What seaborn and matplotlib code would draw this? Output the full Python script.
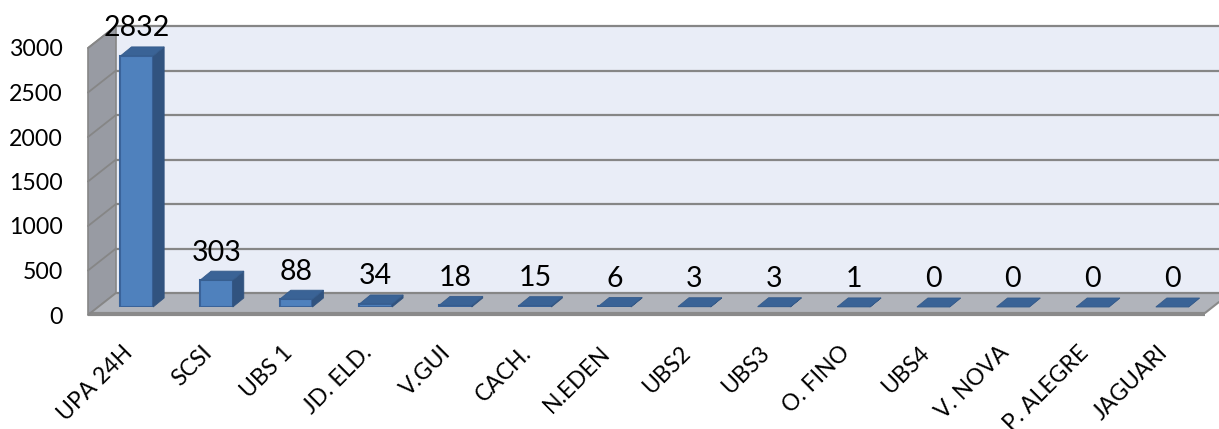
import pandas as pd
import matplotlib
matplotlib.use('Agg')
import matplotlib.pyplot as plt
from matplotlib.patches import Polygon
import seaborn as sns

# data
unidades = ['UPA 24H', 'SCSI', 'UBS 1', 'JD. ELD.', 'V.GUI', 'CACH.', 'N.EDEN',
            'UBS2', 'UBS3', 'O. FINO', 'UBS4', 'V. NOVA', 'P. ALEGRE', 'JAGUARI']
totais = [2832, 303, 88, 34, 18, 15, 6, 3, 3, 1, 0, 0, 0, 0]
y_ticks = [0, 500, 1000, 1500, 2000, 2500, 3000]

df = pd.DataFrame({'unidade': unidades, 'total': totais})

W, H = 1219, 429
sns.set_style('white')
plt.rcParams['font.family'] = ['Lato', 'DejaVu Sans']

fig = plt.figure(figsize=(W / 100, H / 100), dpi=100)


def px_axes(left, top, right, bottom):
    return fig.add_axes([left / W, 1 - bottom / H, (right - left) / W, (bottom - top) / H])


# walls and floor, x in pixels, y in chart units on the front plane
wall = px_axes(88, 48, W, 315)
wall.set_xlim(88, W)
wall.set_ylim(0, 3000)
unit = 3000 / 267
depth_x, depth_y = 28, 22 * unit
grid_c = '#868686'

wall.add_patch(Polygon([(88 + depth_x, depth_y), (W, depth_y), (W, 3000 + depth_y), (88 + depth_x, 3000 + depth_y)],
                       fc='#E9EDF7', ec='none', clip_on=False))
wall.add_patch(Polygon([(88, 0), (88 + depth_x, depth_y), (88 + depth_x, 3000 + depth_y), (88, 3000)],
                       fc='#989BA3', ec=grid_c, lw=1.2, clip_on=False))
wall.add_patch(Polygon([(88, 0), (88 + depth_x, depth_y), (W, depth_y), (W, 13 * unit), (1205, 2 * unit)],
                       fc='#B1B4BB', ec='none', clip_on=False))
wall.plot([88, 1205], [unit, unit], color='#8A8A8A', lw=3, clip_on=False, solid_capstyle='butt')
wall.plot([1205, W], [2 * unit, 13 * unit], color='#8A8A8A', lw=1.5, clip_on=False)
for t in y_ticks:
    wall.plot([88, 88 + depth_x], [t, t + depth_y], color=grid_c, lw=1.3, clip_on=False)
    wall.plot([88 + depth_x, W], [t + depth_y, t + depth_y], color=grid_c, lw=1.6, clip_on=False)

wall.set_yticks(y_ticks)
wall.set_yticklabels([str(t) for t in y_ticks], fontsize=16.7, color='black')
wall.tick_params(axis='y', length=0, pad=18)
wall.set_xticks([])
wall.set_facecolor('none')
sns.despine(ax=wall, left=True, bottom=True)

# bars
ax = px_axes(97, 41, 1212, 307)
ax.set_zorder(2)
ax.set_facecolor('none')
sns.barplot(data=df, x='unidade', y='total', color='#4F81BD', saturation=1, width=0.41,
            edgecolor='#3A639A', linewidth=1.5, ax=ax)
ax.set_xlim(-0.5, len(unidades) - 0.5)
ax.set_ylim(0, 3000)

bar_dx = 11 * len(unidades) / 1115
bar_dy = 9 * 3000 / 266
for bar in list(ax.patches):
    x0, x1 = bar.get_x(), bar.get_x() + bar.get_width()
    h = bar.get_height()
    ax.add_patch(Polygon([(x1, 0), (x1 + bar_dx, bar_dy), (x1 + bar_dx, h + bar_dy), (x1, h)],
                         fc='#31537F', ec='#31537F', lw=0.6, clip_on=False))
    ax.add_patch(Polygon([(x0, h), (x0 + bar_dx, h + bar_dy), (x1 + bar_dx, h + bar_dy), (x1, h)],
                         fc='#3A6396', ec='#365C8C', lw=0.6, clip_on=False))

ax.bar_label(ax.containers[0], labels=[str(v) for v in totais], fontsize=20.5, padding=10.5, color='black', zorder=5)

ax.set_xlabel('')
ax.set_ylabel('')
ax.set_yticks([])
ax.set_xticks(range(len(unidades)))
ax.set_xticklabels(unidades, rotation=45, ha='right', va='bottom', rotation_mode='anchor', fontsize=16.5, color='black')
ax.tick_params(axis='x', length=0, pad=36)
sns.despine(ax=ax, left=True, bottom=True)

fig.savefig('out.png', dpi=100, facecolor='white')
